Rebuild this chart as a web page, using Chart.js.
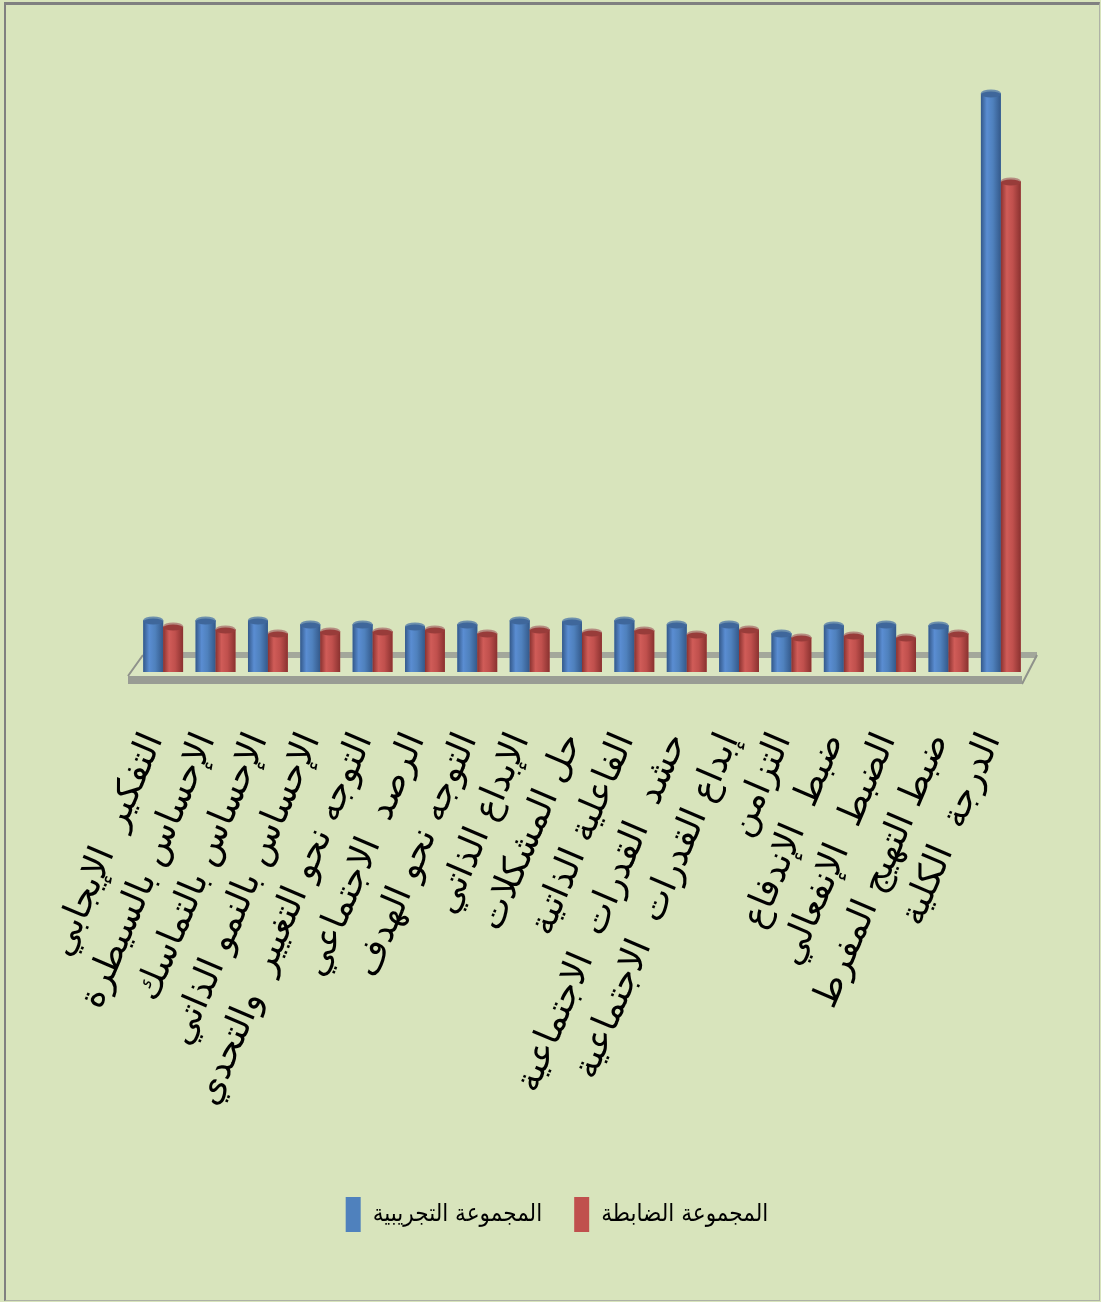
<!DOCTYPE html>
<html lang="ar">
<head>
<meta charset="UTF-8">
<title>المجموعة التجريبية والمجموعة الضابطة</title>
<script src="https://cdn.jsdelivr.net/npm/chart.js@4.4.0/dist/chart.umd.min.js"></script>
<style>
  html, body { margin: 0; padding: 0; background: #d8e4bc; }
  #wrap { position: relative; width: 1101px; height: 1302px; overflow: hidden; }
  #chart { position: absolute; left: 0; top: 0; }
  #frame {
    position: absolute; left: 4px; top: 2px; right: 1px; bottom: 1px;
    border-top: 3px solid #808080; border-left: 2px solid #808080;
    border-right: 1px solid #aeb2a6; border-bottom: 1px solid #aeb2a6;
    pointer-events: none;
  }
</style>
</head>
<body>
<div id="wrap">
  <canvas id="chart" width="1101" height="1302"></canvas>
  <div id="frame"></div>
</div>
<script>
const categories = [
  'التفكير  الإيجابي',
  'الإحساس بالسيطرة',
  'الإحساس بالتماسك',
  'الإحساس بالنمو الذاتي',
  'التوجه نحو التغيير  والتحدي',
  'الرصد  الاجتماعي',
  'التوجه نحو الهدف',
  'الإبداع الذاتي',
  'حل المشكلات',
  'الفاعلية الذاتية',
  'حشد  القدرات  الاجتماعية',
  'إبداع القدرات  الاجتماعية',
  'التزامن',
  'ضبط  الإندفاع',
  'الضبط  الإنفعالي',
  'ضبط التهيج المفرط',
  'الدرجة  الكلية'
];
const experimental = [26, 26, 26, 24, 24, 23, 24, 26, 25.5, 26, 24, 24, 19.5, 23.5, 24, 23.5, 289.5];
const control = [23, 21.5, 19.5, 20.5, 20.5, 21.5, 19.5, 21.5, 20, 21, 19, 21.5, 17.5, 18.5, 17.5, 19.5, 245.5];
const seriesNames = ['المجموعة التجريبية', 'المجموعة الضابطة'];

const arabicFont = '"DejaVu Sans", sans-serif';
const legendFont = '"DejaVu Sans Condensed", "DejaVu Sans", sans-serif';

// the flat 3D floor under the bars
const floorPlugin = {
  id: 'floor',
  beforeDatasetsDraw(chart) {
    const ctx = chart.ctx;
    const area = chart.chartArea;
    const base = chart.scales.y.getPixelForValue(0);
    const backY = base - 17, frontY = base + 4, faceH = 8;
    const bl = area.left + 6, br = area.right + 10;
    const fl = area.left - 9, fr = area.right - 5;
    ctx.save();
    ctx.fillStyle = '#dbe6c2';
    ctx.beginPath();
    ctx.moveTo(bl, backY); ctx.lineTo(br, backY);
    ctx.lineTo(fr, frontY); ctx.lineTo(fl, frontY);
    ctx.closePath();
    ctx.fill();
    ctx.strokeStyle = '#a3a79b';
    ctx.lineWidth = 6;
    ctx.beginPath();
    ctx.moveTo(bl, backY); ctx.lineTo(br, backY);
    ctx.stroke();
    ctx.strokeStyle = '#8f928b';
    ctx.lineWidth = 2;
    ctx.beginPath();
    ctx.moveTo(bl, backY); ctx.lineTo(fl, frontY);
    ctx.moveTo(br, backY); ctx.lineTo(fr, frontY + faceH);
    ctx.stroke();
    ctx.fillStyle = '#999c94';
    ctx.fillRect(fl, frontY, fr - fl, faceH);
    ctx.restore();
  }
};

const shades = [
  { dark: '#34598a', mid: '#4f81bd', light: '#5a8dd2', cap: '#3f679b', rim: '#6d90ad' },
  { dark: '#8a3230', mid: '#c0504d', light: '#d05c58', cap: '#983c3a', rim: '#b58c80' }
];

// paint each bar as a shaded cylinder
const cylinderPlugin = {
  id: 'cylinder',
  afterDatasetsDraw(chart) {
    const ctx = chart.ctx;
    chart.data.datasets.forEach((ds, i) => {
      const s = shades[i];
      chart.getDatasetMeta(i).data.forEach(bar => {
        const { x, y, base, width } = bar.getProps(['x', 'y', 'base', 'width'], true);
        const l = x - width / 2, r = x + width / 2;
        const g = ctx.createLinearGradient(l, 0, r, 0);
        g.addColorStop(0, s.dark);
        g.addColorStop(0.3, s.light);
        g.addColorStop(0.6, s.mid);
        g.addColorStop(1, s.dark);
        ctx.save();
        ctx.fillStyle = g;
        ctx.fillRect(l, y, width, base - y);
        ctx.beginPath();
        ctx.ellipse(x, y, width / 2, 3.5, 0, 0, Math.PI * 2);
        ctx.fillStyle = s.rim;
        ctx.fill();
        ctx.beginPath();
        ctx.ellipse(x, y + 1.5, width / 2, 3, 0, 0, Math.PI * 2);
        ctx.fillStyle = s.cap;
        ctx.fill();
        ctx.restore();
      });
    });
  }
};

// invisible side scales that only reserve room, so the legend centres like the original
const spacer = (position, width) => ({
  type: 'linear',
  position,
  grid: { display: false },
  border: { display: false },
  ticks: { display: false },
  afterFit(scale) { scale.width = width; }
});

new Chart(document.getElementById('chart').getContext('2d'), {
  type: 'bar',
  data: {
    labels: categories,
    datasets: [
      { label: seriesNames[0], data: experimental, backgroundColor: '#4f81bd', borderWidth: 0 },
      { label: seriesNames[1], data: control, backgroundColor: '#c0504d', borderWidth: 0 }
    ]
  },
  options: {
    responsive: false,
    animation: false,
    devicePixelRatio: 1,
    categoryPercentage: 0.76,
    barPercentage: 1,
    layout: { padding: { top: 72, left: 13, right: 0, bottom: 60 } },
    plugins: {
      tooltip: { enabled: false },
      legend: {
        position: 'bottom',
        labels: {
          boxWidth: 15,
          boxHeight: 35,
          padding: 32,
          color: '#000',
          font: { family: legendFont, size: 24 }
        }
      }
    },
    scales: {
      x: {
        grid: { display: false, drawTicks: false },
        border: { display: false },
        ticks: {
          autoSkip: false,
          minRotation: 67,
          maxRotation: 67,
          padding: 55,
          labelOffset: -9,
          color: '#000',
          font: { family: arabicFont, size: 36 }
        },
        afterFit(scale) { scale.height = 493; }
      },
      y: Object.assign(spacer('left', 124), { min: 0, max: 300 }),
      y2: spacer('right', 74)
    }
  },
  plugins: [floorPlugin, cylinderPlugin]
});
</script>
</body>
</html>
